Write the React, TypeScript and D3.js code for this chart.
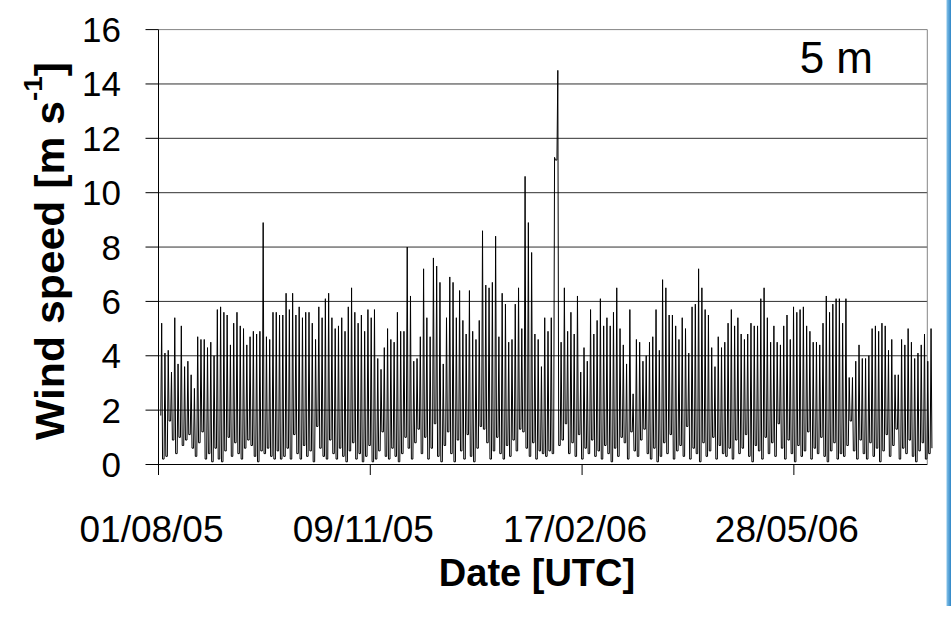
import React from "react";
import * as d3 from "d3";

// Wind speed at 5 m, Aug 2005 – Jul 2006 (UTC)
const START = Date.UTC(2005, 7, 1);
const END = Date.UTC(2006, 6, 30);
const HOUR = 3600 * 1000;

// timing of the diurnal wind maxima
const FIRST_PEAK_HOURS = 36;
const CYCLE_HOURS = 37.1;
const PEAK_HALF_WIDTH_HOURS = 10;

const yTickValues = [0, 2, 4, 6, 8, 10, 12, 14, 16];
const xTickDates = ["2005-08-01", "2005-11-09", "2006-02-17", "2006-05-28"];

// wind speed maxima of each cycle [m/s]
const peakSpeeds = [
  5.2, 4.1, 4.2, 3.4, 5.4, 3.7, 5.1, 3.6, 3.8, 3.3, 2.8, 4.7, 4.6, 4.6, 4.3, 4.5, 4.0, 5.7, 5.8, 5.6,
  5.5, 4.4, 5.2, 5.6, 5.1, 5.0, 4.4, 4.7, 4.9, 4.8, 4.9, 8.9, 4.7, 4.6, 5.6, 5.6, 5.5, 5.5,
  6.3, 5.7, 6.3, 5.5, 5.8, 5.4, 5.6, 5.6, 5.2, 4.6, 5.8, 5.4, 6.1, 6.3, 5.4, 5.0, 5.1, 5.4, 4.9, 5.8,
  6.5, 5.6, 5.2, 5.5, 4.9, 5.7, 5.4, 5.7, 3.9, 3.5, 4.3, 5.0, 4.6, 4.5, 5.6, 4.9, 4.9, 8.0, 6.2, 3.8,
  3.9, 4.7, 7.2, 5.4, 4.7, 7.6, 7.3, 6.7, 3.7, 5.4, 6.9, 6.7, 5.4, 6.4, 5.3, 4.8, 6.4, 4.9, 4.6, 5.3,
  8.6, 6.6, 6.5, 6.7, 8.4, 4.7, 6.3, 5.9, 4.5, 4.6, 5.9, 6.5, 5.0, 10.6, 8.9, 7.8, 4.8, 4.6, 3.6, 5.4,
  4.9, 5.4, 11.3, 14.5, 4.5, 6.5, 4.9, 5.6, 4.8, 6.2, 3.4, 4.3, 3.8, 5.7, 4.8, 5.3,
  6.1, 5.1, 5.4, 5.1, 5.6, 6.5, 5.0, 4.4, 3.7, 5.7, 2.6, 4.6, 4.5, 3.8, 4.0, 4.5, 4.7, 5.7, 4.2, 6.8,
  6.5, 5.5, 5.5, 5.1, 4.6, 5.4, 5.0, 4.1, 5.8, 5.9, 7.2, 6.5, 5.7, 5.5, 4.3, 3.6, 4.7, 4.3, 4.5, 5.2, 5.7,
  5.1, 5.4, 4.8, 4.6, 4.8, 5.2, 5.1, 5.1, 6.1, 6.5, 5.4, 4.5, 5.1, 4.5, 4.4, 5.1, 5.5, 4.6, 5.8, 5.6,
  5.7, 5.8, 5.1, 4.9, 4.5, 4.5, 4.4, 5.2, 6.2, 5.6, 5.9, 6.1, 6.1, 5.2, 6.1, 3.2, 3.2, 3.8, 4.4, 3.9,
  3.9, 4.0, 5.0, 5.1, 4.9, 5.2, 5.1, 4.2, 4.6, 3.3, 3.3, 4.6, 4.4, 5.0, 4.5, 3.9, 4.1, 4.4, 4.8, 3.8, 5.0,
];

// wind speed minima before each maximum, plus the final one [m/s]
const troughSpeeds = [
  1.8, 0.2, 0.3, 1.6, 0.9, 0.4, 1.0, 0.7, 0.9, 1.1, 0.6, 0.3, 0.8, 1.2, 0.2, 0.4, 0.1, 0.6, 0.2, 0.1,
  0.5, 1.0, 0.3, 0.8, 0.4, 0.2, 0.6, 0.9, 0.7, 0.3, 0.1, 0.5, 0.4, 0.6, 0.3, 0.2, 0.5, 0.2,
  0.3, 0.6, 0.2, 1.1, 0.4, 0.2, 0.7, 0.3, 0.5, 0.1, 1.4, 0.6, 0.3, 0.2, 0.9, 0.4, 0.2, 0.6, 0.3, 0.1,
  0.5, 0.8, 0.2, 0.4, 0.1, 0.3, 0.7, 0.1, 0.2, 0.5, 1.2, 0.3, 0.2, 0.6, 0.3, 0.1, 0.4, 1.0, 0.6, 0.2,
  0.8, 1.3, 0.4, 1.0, 0.2, 0.6, 1.5, 0.3, 0.1, 0.7, 1.2, 0.4, 0.1, 0.9, 0.5, 0.2, 1.1, 0.3, 0.1, 0.6,
  1.4, 1.3, 0.8, 0.2, 0.5, 1.0, 0.4, 0.2, 0.7, 0.3, 0.9, 0.5, 1.3, 1.2, 0.6, 0.3, 0.8, 0.2, 0.5, 0.4,
  0.3, 0.5, 0.4, 11.2, 0.7, 0.9, 1.5, 0.4, 0.8, 0.3, 1.1, 0.2, 0.6, 0.4, 0.9, 0.3,
  0.5, 0.2, 0.7, 0.4, 0.1, 0.6, 0.3, 1.0, 0.8, 0.2, 1.2, 0.5, 0.3, 0.9, 1.3, 0.4, 0.2, 0.6, 0.1, 0.3,
  0.8, 0.4, 1.1, 0.2, 0.5, 0.7, 0.3, 1.4, 0.2, 0.6, 0.4, 0.1, 0.8, 0.3, 0.5, 1.0, 0.2, 0.7, 0.4, 0.3, 0.6,
  0.2, 0.9, 0.4, 0.6, 1.1, 0.3, 0.1, 0.7, 0.5, 0.2, 1.0, 0.4, 0.8, 0.3, 1.5, 0.6, 0.2, 0.9, 0.4, 0.1,
  0.7, 0.3, 0.5, 1.2, 0.2, 0.6, 0.4, 1.0, 0.3, 0.1, 0.5, 0.8, 0.2, 0.4, 0.3, 0.7, 1.6, 0.5, 0.2, 0.9,
  0.4, 0.2, 0.8, 0.3, 0.6, 0.1, 0.5, 1.1, 0.3, 0.7, 1.3, 0.2, 0.6, 0.4, 0.9, 0.3, 0.1, 0.5, 0.8, 0.2, 0.4, 0.6,
];

const FONT = "'Liberation Sans', Arial, Helvetica, sans-serif";

type Pt = { t: number; v: number };

function buildSeries(): Pt[] {
  const pts: Pt[] = [];
  const low = (i: number) => troughSpeeds[Math.min(i, troughSpeeds.length - 1)];
  peakSpeeds.forEach((peak, i) => {
    const tPeak = START + (FIRST_PEAK_HOURS + i * CYCLE_HOURS) * HOUR;
    if (i > 0) {
      const tPrev = tPeak - CYCLE_HOURS * HOUR;
      pts.push({ t: tPrev + PEAK_HALF_WIDTH_HOURS * HOUR, v: low(i) });
    }
    pts.push({ t: tPeak - PEAK_HALF_WIDTH_HOURS * HOUR, v: low(i) });
    pts.push({ t: tPeak, v: peak });
  });
  const tLast = START + (FIRST_PEAK_HOURS + (peakSpeeds.length - 1) * CYCLE_HOURS) * HOUR;
  pts.push({ t: tLast + PEAK_HALF_WIDTH_HOURS * HOUR, v: low(peakSpeeds.length) });
  return pts;
}

export default function App() {
  const W = 951;
  const H = 620;
  const left = 158.5;
  const right = 927.3;
  const top = 29.6;
  const bottom = 464.5;

  const x = d3.scaleUtc().domain([START, END]).range([left, right]);
  const y = d3.scaleLinear().domain([0, 16]).range([bottom, top]);

  const series = buildSeries();
  const line = d3
    .line<Pt>()
    .x((d) => x(d.t))
    .y((d) => y(d.v));

  const fmt = d3.utcFormat("%d/%m/%y");
  const xTicks = xTickDates.map((s) => new Date(s + "T00:00:00Z"));

  return (
    <svg
      width={W}
      height={H}
      style={{ position: "absolute", left: 0, top: 0, background: "#fff" }}
    >
      <defs>
        <linearGradient id="edge" x1="0" x2="1" y1="0" y2="0">
          <stop offset="0" stopColor="#86c3ea" />
          <stop offset="1" stopColor="#2f86c6" />
        </linearGradient>
      </defs>
      <rect x={0} y={0} width={W} height={H} fill="#fff" />
      <rect x={946.5} y={0} width={4.5} height={606} fill="url(#edge)" />

      {/* horizontal gridlines */}
      {yTickValues
        .filter((v) => v > 0 && v < 16)
        .map((v) => (
          <line key={v} x1={left} x2={right} y1={y(v)} y2={y(v)} stroke="#303030" strokeWidth={1} />
        ))}

      {/* plot frame (top and right) */}
      <line x1={left} x2={right} y1={top} y2={top} stroke="#858585" strokeWidth={1} />
      <line x1={right} x2={right} y1={top} y2={bottom} stroke="#858585" strokeWidth={1} />

      {/* wind speed trace */}
      <path d={line(series) ?? ""} fill="none" stroke="#000" strokeWidth={1} />

      {/* y axis */}
      <line x1={left} x2={left} y1={top} y2={bottom + 10.5} stroke="#000" strokeWidth={1} />
      {yTickValues.map((v) => (
        <g key={v}>
          <line x1={left - 13} x2={left} y1={y(v)} y2={y(v)} stroke="#000" strokeWidth={1} />
          <text
            x={121}
            y={y(v) + 12.5}
            textAnchor="end"
            fontFamily={FONT}
            fontSize={35}
            fill="#000"
          >
            {v}
          </text>
        </g>
      ))}

      {/* x axis */}
      <line x1={left} x2={right} y1={bottom} y2={bottom} stroke="#000" strokeWidth={1} />
      {xTicks.map((d) => (
        <g key={d.toISOString()}>
          <line x1={x(d)} x2={x(d)} y1={bottom} y2={bottom + 10.5} stroke="#000" strokeWidth={1} />
          <text
            x={x(d) - 7}
            y={542}
            textAnchor="middle"
            fontFamily={FONT}
            fontSize={37}
            fill="#000"
          >
            {fmt(d)}
          </text>
        </g>
      ))}

      {/* axis titles */}
      <text
        x={537}
        y={586}
        textAnchor="middle"
        fontFamily={FONT}
        fontWeight="bold"
        fontSize={38}
        fill="#000"
      >
        Date [UTC]
      </text>
      <text
        transform="translate(64,440) rotate(-90)"
        fontFamily={FONT}
        fontWeight="bold"
        fontSize={40}
        fill="#000"
        textLength={378}
        lengthAdjust="spacingAndGlyphs"
      >
        Wind speed [m s
        <tspan dy={-22} fontSize={26}>
          -1
        </tspan>
        <tspan dy={22}>]</tspan>
      </text>

      {/* measurement height */}
      <text x={873} y={73} textAnchor="end" fontFamily={FONT} fontSize={44} fill="#000">
        5 m
      </text>
    </svg>
  );
}
